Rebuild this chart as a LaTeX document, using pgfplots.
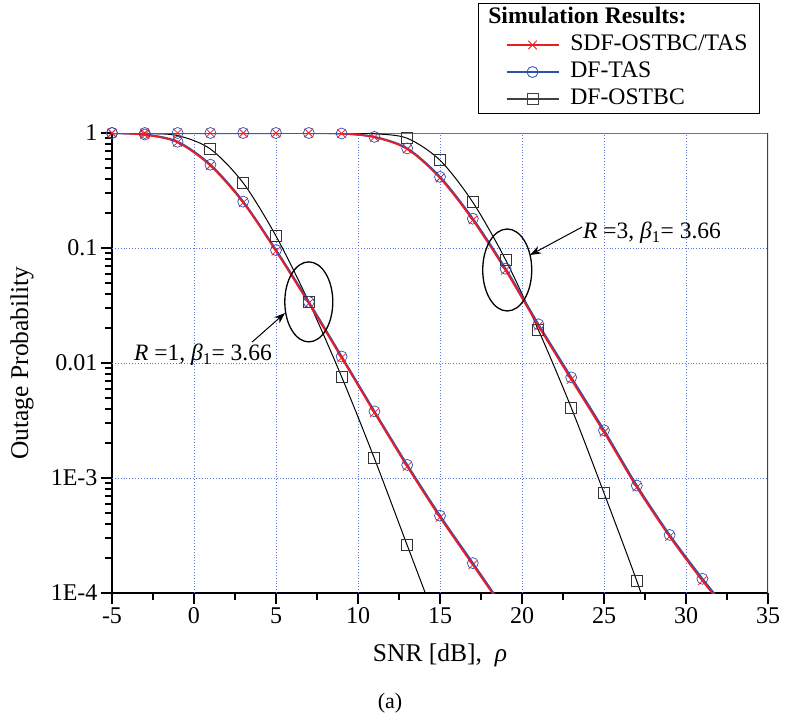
\documentclass[border=0pt]{standalone}
\usepackage{fontspec}
\setmainfont{Liberation Serif}
\usepackage{pgfplots}
\pgfplotsset{compat=1.18}
\usetikzlibrary{arrows.meta}
\definecolor{myred}{RGB}{237,28,36}
\definecolor{myblue}{RGB}{45,80,175}
\definecolor{gridblue}{RGB}{90,120,215}
\begin{document}
\begin{tikzpicture}
\useasboundingbox (-112bp,-130bp) rectangle (673bp,593bp);
\begin{axis}[
  scale only axis, width=656bp, height=460bp,
  ymode=log, xmin=-5, xmax=35, ymin=1e-4, ymax=1,
  axis x line*=bottom, axis y line*=left,
  axis line style={-, line width=2.2bp, black},
  xtick={-5,0,...,35}, minor xtick={-2.5,2.5,7.5,12.5,17.5,22.5,27.5,32.5},
  ytick={1e-4,1e-3,1e-2,1e-1,1}, yticklabels={1E-4,1E-3,0.01,0.1,1},
  xtick pos=bottom, ytick pos=left, tick align=outside,
  major tick length=11bp, minor tick length=7bp,
  tick style={draw=black, line width=2bp},
  tick label style={font=\fontsize{24bp}{26bp}\selectfont},
  /pgf/number format/assume math mode=true,
  label style={font=\fontsize{25.5bp}{28bp}\selectfont},
  xlabel={SNR [dB],\ \ {\itshape ρ}},
  ylabel={Outage Probability},
  xlabel style={at={(axis description cs:0.5,-0.135)},anchor=center},
  ylabel style={at={(axis description cs:-0.137,0.5)},anchor=center},
  legend style={at={(axis description cs:0.9878,1.2826)}, anchor=north east,
    draw=black, line width=1bp, fill=white,
    font=\fontsize{23.7bp}{26bp}\selectfont,
    inner xsep=12bp, inner ysep=3bp, column sep=11bp, row sep=4bp,
    nodes={inner sep=0bp, text height=17bp, text depth=6bp}},
  legend cell align=left,
  legend image code/.code={\path (0bp,0bp); \draw[mark repeat=2,mark phase=2] plot coordinates {(15bp,0bp)(41bp,0bp)(67bp,0bp)};},
]
% grid
\pgfplotsinvokeforeach{0,5,10,15,20,25,30}{
  \draw[gridblue, dotted, line width=0.9bp] (axis cs:#1,1e-4) -- (axis cs:#1,1);}
\pgfplotsinvokeforeach{1e-3,1e-2,1e-1}{
  \draw[gridblue, dotted, line width=0.9bp] (axis cs:-5,#1) -- (axis cs:35,#1);}
% top and right frame
\draw[black!55, line width=0.9bp] (rel axis cs:0,1) -- (rel axis cs:1,1);
\draw[black!75, line width=1.1bp] (rel axis cs:1,1) -- (rel axis cs:1,0);
% DF-OSTBC (black)
\addplot[black, line width=1bp, smooth, mark=square, mark size=5.5bp,
  mark options={fill=white, draw=black!80, line width=1bp, solid},
  mark indices={4,5,6,7,8,9,10,11}, forget plot] coordinates {
(-5,1)(-3,0.99)(-1,0.95)(1,0.726)(3,0.368)(5,0.127)(7,0.034)(9,0.0076)(11,0.00148)(13,2.6e-4)(15,4.6e-5)};
\addplot[black, line width=1bp, smooth, mark=square, mark size=5.5bp,
  mark options={fill=white, draw=black!80, line width=1bp, solid},
  mark indices={10,11,12,13,14,15,16,17}, forget plot] coordinates {
(-5,1)(-3,1)(-1,1)(1,1)(3,1)(5,1)(7,1)(9,0.998)(11,0.985)(13,0.90)(15,0.58)(17,0.25)(19,0.079)(21,0.0194)(23,0.0041)(25,7.4e-4)(27,1.27e-4)(29,1.9e-5)};
% DF-TAS (blue)
\addplot[myblue, line width=2bp, smooth, mark=o, mark size=5.5bp,
  mark options={line width=0.7bp, fill=none}, forget plot] coordinates {
(-5,1)(-3,0.97)(-1,0.84)(1,0.53)(3,0.253)(5,0.096)(7,0.034)(9,0.0114)(11,0.0038)(13,0.0013)(15,4.7e-4)(17,1.82e-4)(19,7.0e-5)};
\addplot[myblue, line width=2bp, smooth, mark=o, mark size=5.5bp,
  mark options={line width=0.7bp, fill=none}, forget plot] coordinates {
(-5,1)(-3,1)(-1,1)(1,1)(3,1)(5,1)(7,1)(9,0.99)(11,0.925)(13,0.735)(15,0.415)(17,0.18)(19,0.066)(21,0.0217)(23,0.0075)(25,0.0026)(27,8.6e-4)(29,3.2e-4)(31,1.33e-4)(33,5.9e-5)};
% SDF-OSTBC/TAS (red)
\addplot[myred, line width=1.8bp, smooth, mark=x, mark size=6bp,
  mark options={line width=0.8bp}, forget plot] coordinates {
(-5,1)(-3,0.965)(-1,0.83)(1,0.52)(3,0.248)(5,0.094)(7,0.033)(9,0.0111)(11,0.0037)(13,0.00126)(15,4.55e-4)(17,1.76e-4)(19,6.8e-5)};
\addplot[myred, line width=1.8bp, smooth, mark=x, mark size=6bp,
  mark options={line width=0.8bp}, forget plot] coordinates {
(-5,1)(-3,1)(-1,1)(1,1)(3,1)(5,1)(7,1)(9,0.99)(11,0.92)(13,0.726)(15,0.406)(17,0.175)(19,0.064)(21,0.021)(23,0.0072)(25,0.0025)(27,8.3e-4)(29,3.1e-4)(31,1.28e-4)(33,5.7e-5)};
% legend
\addlegendimage{empty legend}
\addlegendentry{\hspace*{-82bp}\textbf{Simulation Results:}}
\addlegendimage{myred, line width=1.5bp, mark=x, mark size=6bp, mark options={line width=0.8bp}}
\addlegendentry{SDF-OSTBC/TAS}
\addlegendimage{myblue, line width=1.5bp, mark=o, mark size=5.5bp, mark options={line width=0.8bp, fill=white}}
\addlegendentry{DF-TAS}
\addlegendimage{black!75, line width=1.5bp, mark=square, mark size=5.5bp, mark options={line width=0.8bp, fill=white}}
\addlegendentry{DF-OSTBC}
% annotations
\draw[line width=1.3bp] (axis cs:7,0.034) ellipse [x radius=24bp, y radius=40bp];
\draw[line width=1.3bp] (axis cs:19.1,0.0644) ellipse [x radius=24.5bp, y radius=41bp];
\draw[line width=1bp, -{Stealth[length=11bp,width=8bp]}] (axis cs:3.54,0.0152) -- (axis cs:5.55,0.0272);
\draw[line width=1bp, -{Stealth[length=11bp,width=8bp]}] (axis cs:23.66,0.152) -- (axis cs:20.49,0.0869);
\node[font=\fontsize{23.5bp}{26bp}\selectfont] at (axis cs:0.55,0.0117) {{\itshape R} =1, {\itshape β}\textsubscript{1}= 3.66};
\node[font=\fontsize{23.5bp}{26bp}\selectfont] at (axis cs:27.93,0.135) {{\itshape R} =3, {\itshape β}\textsubscript{1}= 3.66};
\end{axis}
\node[font=\fontsize{22bp}{24bp}\selectfont] at (278bp,-110bp) {(a)};
\end{tikzpicture}
\end{document}
